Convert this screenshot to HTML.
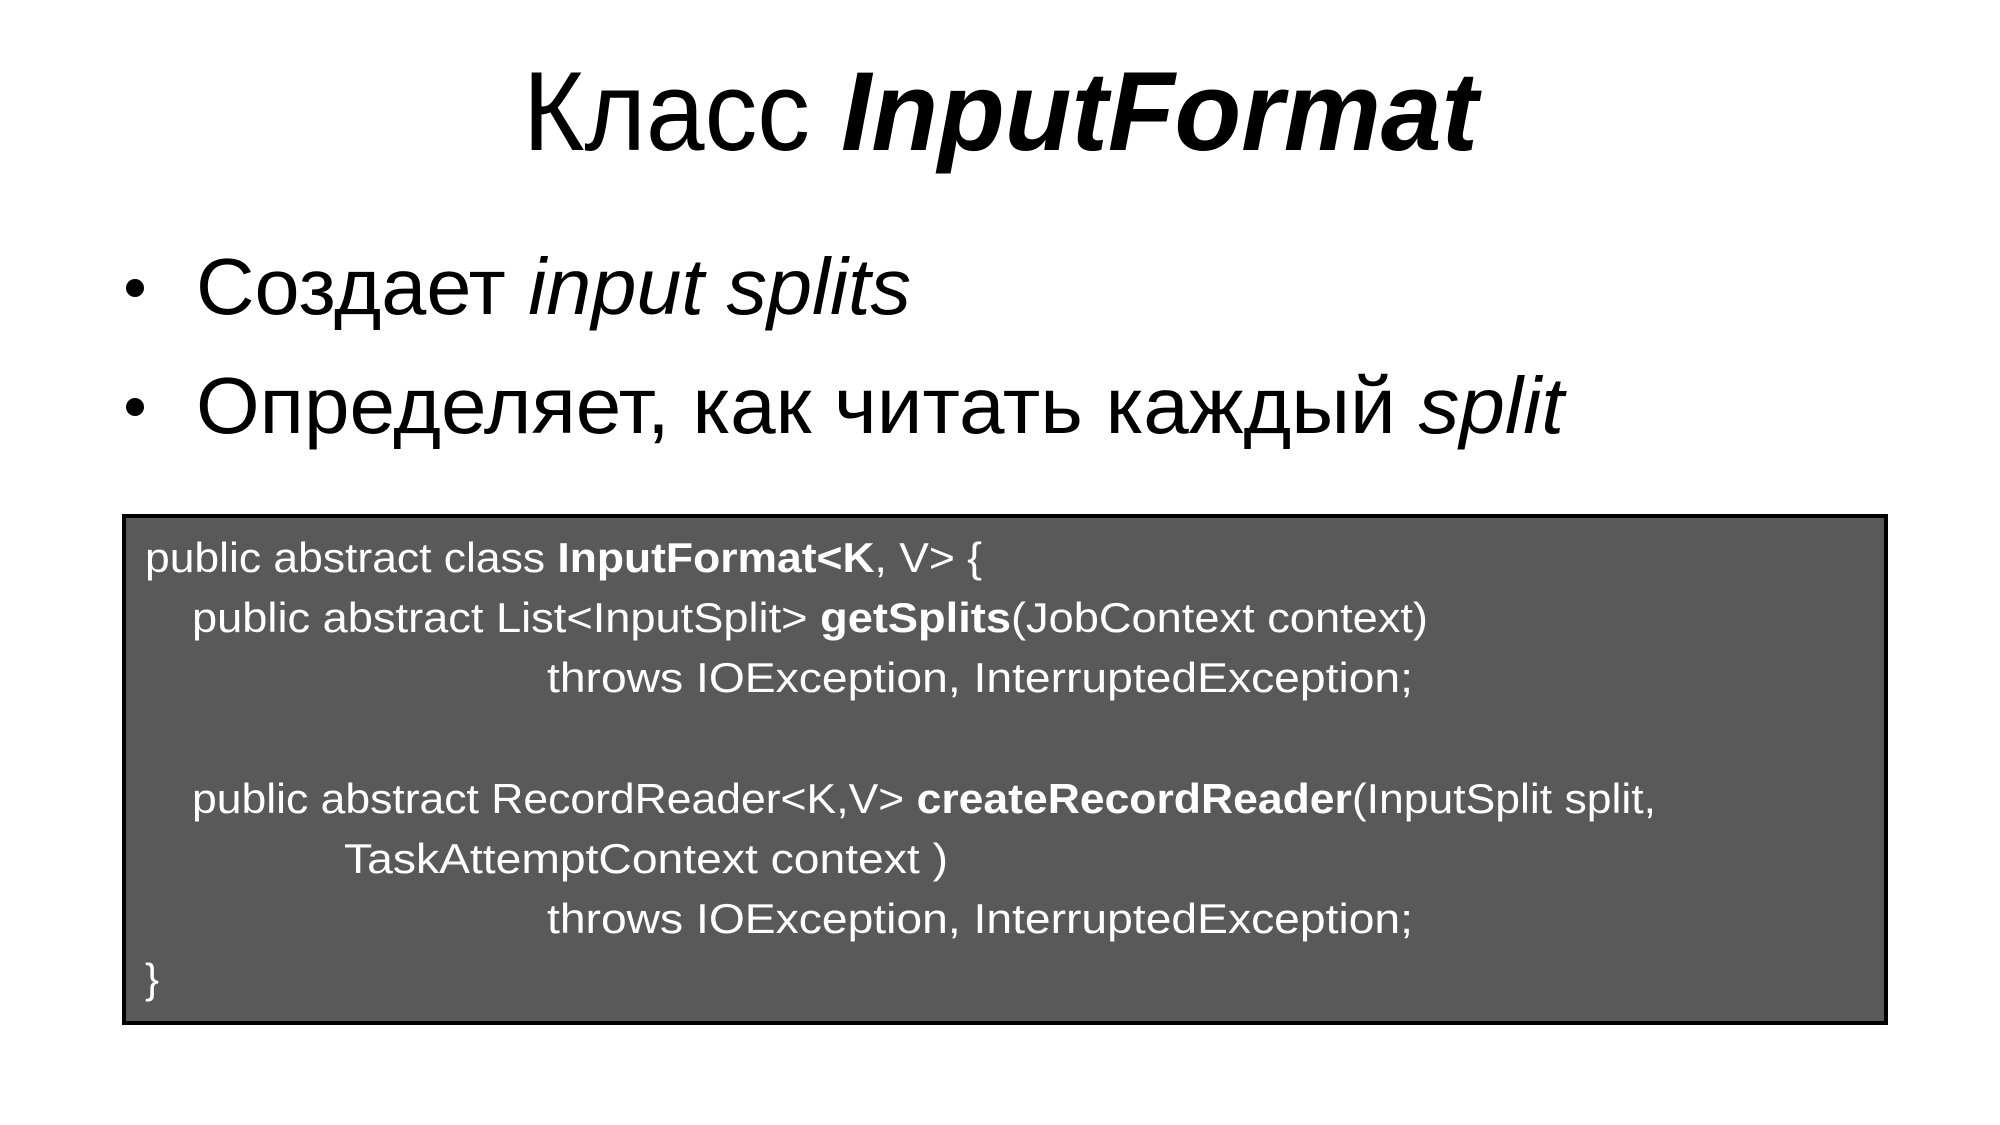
<!DOCTYPE html>
<html><head><meta charset="utf-8"><style>
html,body{margin:0;padding:0;background:#fff;}
svg{display:block;}
text{font-family:"Liberation Sans",sans-serif;}
</style></head><body>
<svg width="2000" height="1125" viewBox="0 0 2000 1125" xmlns="http://www.w3.org/2000/svg">
<rect width="2000" height="1125" fill="#fff"/>
<text x="523" y="150" font-size="112" fill="#000" textLength="287" lengthAdjust="spacingAndGlyphs">Класс</text>
<text x="841" y="150" font-size="112" font-weight="bold" font-style="italic" fill="#000" textLength="637" lengthAdjust="spacingAndGlyphs">InputFormat</text>
<circle cx="135" cy="288" r="9" fill="#000"/>
<circle cx="135" cy="407" r="9" fill="#000"/>
<text x="196" y="314" font-size="80" fill="#000" textLength="715" lengthAdjust="spacingAndGlyphs">Создает <tspan font-style="italic">input splits</tspan></text>
<text x="196" y="433" font-size="80" fill="#000" textLength="1368" lengthAdjust="spacingAndGlyphs">Определяет, как читать каждый <tspan font-style="italic">split</tspan></text>
<rect x="124" y="516" width="1762" height="507" fill="#595959" stroke="#000" stroke-width="4"/>
<rect x="124" y="516" width="1762" height="507" fill="none" stroke="#000" stroke-width="4"/>
<g font-size="42" fill="#fff">
<text x="145" y="572" textLength="837" lengthAdjust="spacingAndGlyphs">public abstract class <tspan font-weight="bold">InputFormat&lt;K</tspan>, V&gt; {</text>
<text x="192" y="632" textLength="1236" lengthAdjust="spacingAndGlyphs">public abstract List&lt;InputSplit&gt; <tspan font-weight="bold">getSplits</tspan>(JobContext context)</text>
<text x="547" y="692" textLength="866" lengthAdjust="spacingAndGlyphs">throws IOException, InterruptedException;</text>
<text x="192" y="813" textLength="1464" lengthAdjust="spacingAndGlyphs">public abstract RecordReader&lt;K,V&gt; <tspan font-weight="bold">createRecordReader</tspan>(InputSplit split,</text>
<text x="344" y="873" textLength="604" lengthAdjust="spacingAndGlyphs">TaskAttemptContext context )</text>
<text x="547" y="933" textLength="866" lengthAdjust="spacingAndGlyphs">throws IOException, InterruptedException;</text>
<text x="145" y="993">}</text>
</g>
</svg>
</body></html>
